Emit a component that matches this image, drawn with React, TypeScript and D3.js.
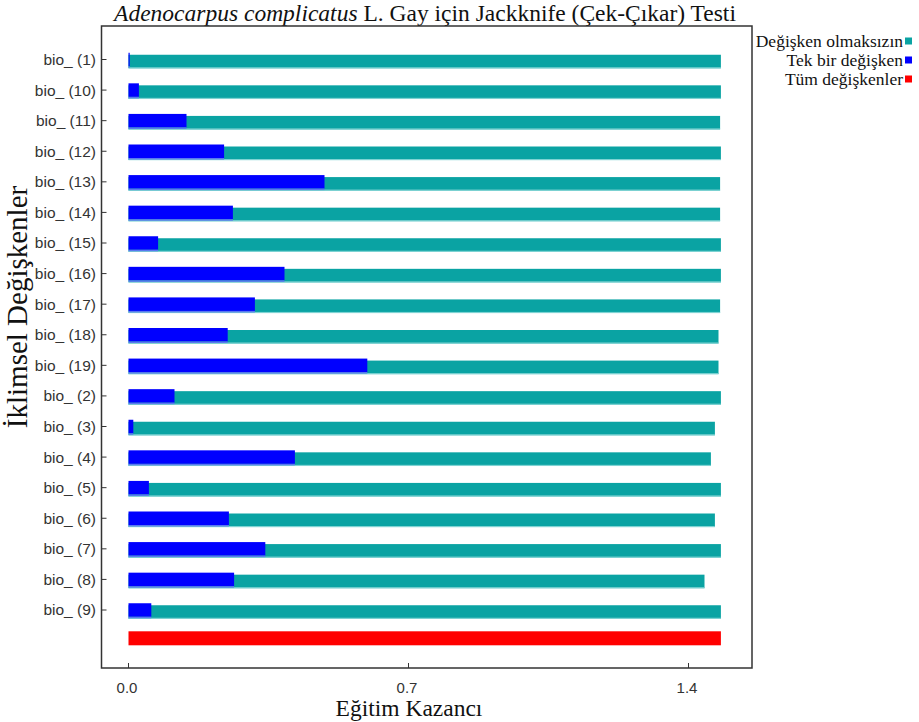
import React from 'react';
import * as d3 from 'd3';

// jackknife results
const variables = [
  'bio_ (1)', 'bio_ (10)', 'bio_ (11)', 'bio_ (12)', 'bio_ (13)', 'bio_ (14)', 'bio_ (15)',
  'bio_ (16)', 'bio_ (17)', 'bio_ (18)', 'bio_ (19)', 'bio_ (2)', 'bio_ (3)', 'bio_ (4)',
  'bio_ (5)', 'bio_ (6)', 'bio_ (7)', 'bio_ (8)', 'bio_ (9)',
];
const withoutVariable = [
  1.481, 1.481, 1.479, 1.481, 1.479, 1.479, 1.481, 1.481, 1.479, 1.475,
  1.475, 1.481, 1.466, 1.456, 1.481, 1.466, 1.481, 1.44, 1.481,
];
const withOnlyVariable = [
  0.003, 0.026, 0.145, 0.239, 0.49, 0.261, 0.074, 0.39, 0.316, 0.248,
  0.597, 0.115, 0.012, 0.416, 0.051, 0.251, 0.342, 0.264, 0.057,
];
const allVariables = 1.481;
const xTicks = [0, 0.7, 1.4];

const legendItems = [
  { label: 'Değişken olmaksızın', color: '#0aa3a3' },
  { label: 'Tek bir değişken', color: '#0000ff' },
  { label: 'Tüm değişkenler', color: '#ff0000' },
];

const width = 919;
const height = 722;
const frame = { left: 101.5, right: 752, top: 26, bottom: 668 };
const serif = '"Liberation Serif", "Times New Roman", serif';
const sans = '"Liberation Sans", Arial, sans-serif';

export default function App() {
  const x = d3.scaleLinear().domain([0, 1.4]).range([128.5, 688.5]);
  // row index -> vertical centre
  const y = d3.scaleLinear().domain([0, 18]).range([61.5, 612]);
  const redRow = 18.86;
  const barH = 13.5;

  return (
    <svg width={width} height={height} style={{ position: 'absolute', left: 0, top: 0, background: '#fff' }}>
      <text x={425} y={21} textAnchor="middle" fontFamily={serif} fontSize={23.5} fill="#111">
        <tspan fontStyle="italic">Adenocarpus complicatus</tspan> L. Gay için Jackknife (Çek-Çıkar) Testi
      </text>

      {/* teal bars: model without the variable */}
      {variables.map((v, i) => (
        <g key={'t' + v}>
          <rect x={x(0)} y={y(i) - barH / 2} width={x(withoutVariable[i]) - x(0)} height={barH} fill="#0aa3a3" />
          <rect x={x(0)} y={y(i) + barH / 2 - 1} width={x(withoutVariable[i]) - x(0)} height={1.2} fill="#7fd3d3" />
        </g>
      ))}
      {/* blue bars: variable alone */}
      {variables.map((v, i) => (
        <g key={'b' + v}>
          <rect x={x(0)} y={y(i) - barH / 2 - 2} width={x(withOnlyVariable[i]) - x(0)} height={barH} fill="#0000ff" />
          <rect x={x(0)} y={y(i) + barH / 2 - 2} width={x(withOnlyVariable[i]) - x(0)} height={1.5} fill="#5b78f0" />
        </g>
      ))}
      <rect x={x(0)} y={y(redRow) - 7} width={x(allVariables) - x(0)} height={14} fill="#ff0000" />

      {/* frame */}
      <rect x={frame.left} y={frame.top} width={frame.right - frame.left} height={frame.bottom - frame.top}
        fill="none" stroke="#333" strokeWidth={1.5} />

      {/* y ticks & labels */}
      {variables.map((v, i) => (
        <g key={'l' + v}>
          <line x1={frame.left} x2={frame.left + 5} y1={y(i) - 2} y2={y(i) - 2} stroke="#333" strokeWidth={1} />
          <text x={96} y={y(i) - 2} dy="0.35em" textAnchor="end" fontFamily={sans} fontSize={15.5} fill="#333">{v}</text>
        </g>
      ))}

      {/* x ticks & labels */}
      {xTicks.map(t => (
        <g key={'x' + t}>
          <line x1={x(t)} x2={x(t)} y1={frame.bottom} y2={frame.bottom - 5} stroke="#333" strokeWidth={1} />
          <text x={x(t) - 1.5} y={688} dy="0.35em" textAnchor="middle" fontFamily={sans} fontSize={15} fill="#333">{d3.format('.1f')(t)}</text>
        </g>
      ))}

      <text x={409} y={716} textAnchor="middle" fontFamily={serif} fontSize={23.5} fill="#111">Eğitim Kazancı</text>
      <text transform="translate(27,307) rotate(-90)" textAnchor="middle" fontFamily={serif} fontSize={29} fill="#111">İklimsel Değişkenler</text>

      {/* legend */}
      {legendItems.map((d, i) => (
        <g key={d.label}>
          <text x={903} y={41 + i * 19} dy="0.35em" textAnchor="end" fontFamily={serif} fontSize={17.5} fill="#111">{d.label}</text>
          <rect x={905} y={41 + i * 19 - 3.5} width={7} height={7} fill={d.color} />
        </g>
      ))}
    </svg>
  );
}
